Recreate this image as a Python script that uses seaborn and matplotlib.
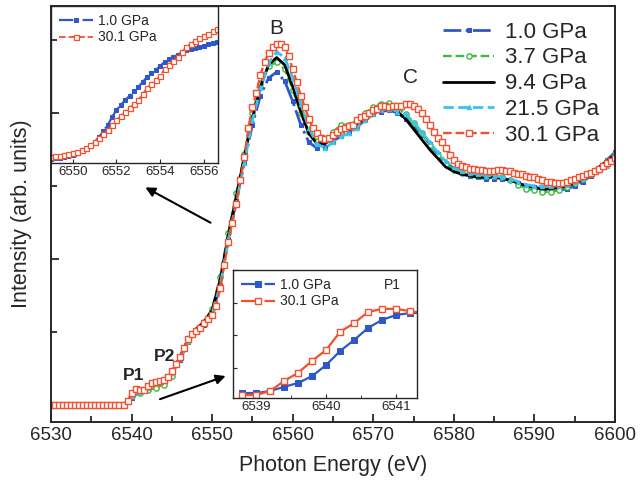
import numpy as np
import matplotlib
matplotlib.use('Agg')
import matplotlib.pyplot as plt
import seaborn as sns
from matplotlib.ticker import MultipleLocator

sns.set_style('ticks')
plt.rcParams['font.family'] = ['Liberation Sans', 'DejaVu Sans']

# ---------------- data ----------------
# main spectra (30.1 GPa on 0.5 eV grid, the others on 1 eV grid)
energy_fine = np.arange(6530.0, 6600.01, 0.5)
energy = np.arange(6530.0, 6600.01, 1.0)

i_301 = [
    0.00, 0.00, 0.00, 0.00, 0.00, 0.00, 0.00, 0.00, 0.00, 0.00,   # 6530-6534.5
    0.00, 0.00, 0.00, 0.00, 0.00, 0.00, 0.00, 0.00, 0.00, 0.03,   # 6535-6539.5
    0.08, 0.11, 0.10, 0.105, 0.13, 0.15, 0.16, 0.165, 0.17, 0.19,  # 6540-6544.5
    0.23, 0.28, 0.33, 0.39, 0.45, 0.49, 0.51, 0.53, 0.56, 0.59,   # 6545-6549.5
    0.62, 0.68, 0.80, 0.96, 1.12, 1.25, 1.38, 1.54, 1.70, 1.90,   # 6550-6554.5
    2.04, 2.14, 2.26, 2.35, 2.41, 2.45, 2.47, 2.47, 2.45, 2.39,   # 6555-6559.5
    2.30, 2.21, 2.12, 2.04, 1.96, 1.90, 1.86, 1.83, 1.82, 1.83,   # 6560-6564.5
    1.85, 1.87, 1.89, 1.90, 1.91, 1.92, 1.95, 1.97, 1.98, 2.00,   # 6565-6569.5
    2.02, 2.03, 2.05, 2.05, 2.04, 2.05, 2.05, 2.05, 2.06, 2.06,   # 6570-6574.5
    2.05, 2.03, 2.00, 1.96, 1.92, 1.87, 1.83, 1.80, 1.76, 1.71,   # 6575-6579.5
    1.68, 1.65, 1.64, 1.63, 1.62, 1.62, 1.61, 1.61, 1.60, 1.60,   # 6580-6584.5
    1.60, 1.61, 1.61, 1.60, 1.60, 1.59, 1.58, 1.58, 1.57, 1.56,   # 6585-6589.5
    1.56, 1.55, 1.54, 1.53, 1.53, 1.52, 1.52, 1.52, 1.53, 1.54,   # 6590-6594.5
    1.55, 1.56, 1.57, 1.58, 1.59, 1.60, 1.62, 1.64, 1.66, 1.67,   # 6595-6599.5
    1.69,
]

i_10 = [
    0.00, 0.00, 0.00, 0.00, 0.00, 0.00, 0.00, 0.00, 0.00, 0.00,   # 6530-6539
    0.05, 0.09, 0.12, 0.15, 0.16, 0.21, 0.31, 0.43, 0.50, 0.55,   # 6540-6549
    0.62, 0.82, 1.14, 1.40, 1.66, 1.92, 2.12, 2.24, 2.28, 2.22,   # 6550-6559
    2.08, 1.92, 1.80, 1.76, 1.77, 1.81, 1.84, 1.87, 1.91, 1.95,   # 6560-6569
    1.99, 2.01, 2.02, 2.00, 1.96, 1.91, 1.85, 1.79, 1.72, 1.66,   # 6570-6579
    1.62, 1.59, 1.57, 1.56, 1.55, 1.55, 1.55, 1.54, 1.52, 1.50,   # 6580-6589
    1.49, 1.48, 1.47, 1.47, 1.48, 1.50, 1.53, 1.57, 1.62, 1.68,   # 6590-6599
    1.73,
]

i_37 = [
    0.00, 0.00, 0.00, 0.00, 0.00, 0.00, 0.00, 0.00, 0.00, 0.00,
    0.06, 0.08, 0.10, 0.12, 0.14, 0.20, 0.32, 0.44, 0.51, 0.57,
    0.66, 0.88, 1.18, 1.45, 1.72, 2.00, 2.20, 2.32, 2.35, 2.30,
    2.16, 2.00, 1.87, 1.81, 1.82, 1.87, 1.92, 1.92, 1.95, 2.00,
    2.04, 2.06, 2.07, 2.04, 1.99, 1.93, 1.86, 1.78, 1.71, 1.65,
    1.61, 1.59, 1.58, 1.57, 1.57, 1.57, 1.56, 1.54, 1.51, 1.48,
    1.47, 1.46, 1.46, 1.47, 1.49, 1.52, 1.55, 1.58, 1.62, 1.67,
    1.71,
]

i_94 = [
    0.00, 0.00, 0.00, 0.00, 0.00, 0.00, 0.00, 0.00, 0.00, 0.00,
    0.06, 0.09, 0.12, 0.15, 0.17, 0.22, 0.33, 0.45, 0.52, 0.57,
    0.65, 0.86, 1.16, 1.43, 1.70, 1.97, 2.18, 2.33, 2.38, 2.33,
    2.18, 2.01, 1.86, 1.79, 1.79, 1.83, 1.87, 1.89, 1.93, 1.97,
    2.01, 2.03, 2.03, 2.01, 1.96, 1.89, 1.82, 1.75, 1.69, 1.63,
    1.60, 1.58, 1.57, 1.56, 1.56, 1.56, 1.55, 1.54, 1.52, 1.50,
    1.49, 1.48, 1.48, 1.49, 1.50, 1.52, 1.55, 1.59, 1.63, 1.67,
    1.71,
]

i_215 = [
    0.00, 0.00, 0.00, 0.00, 0.00, 0.00, 0.00, 0.00, 0.00, 0.00,
    0.06, 0.09, 0.12, 0.15, 0.17, 0.22, 0.32, 0.44, 0.51, 0.56,
    0.63, 0.82, 1.13, 1.39, 1.66, 1.95, 2.17, 2.34, 2.42, 2.38,
    2.24, 2.06, 1.90, 1.79, 1.76, 1.80, 1.84, 1.86, 1.90, 1.95,
    1.99, 2.02, 2.03, 2.01, 1.99, 1.94, 1.87, 1.80, 1.73, 1.67,
    1.63, 1.60, 1.59, 1.58, 1.57, 1.57, 1.56, 1.55, 1.53, 1.51,
    1.50, 1.50, 1.50, 1.50, 1.51, 1.53, 1.55, 1.58, 1.61, 1.64,
    1.67,
]

# inset 1: main edge, 6549.0 - 6556.6 eV
edge_energy = np.arange(6549.0, 6556.61, 0.2)
edge_10 = [
    0.04, 0.05, 0.05, 0.06, 0.07, 0.08, 0.10, 0.12, 0.14, 0.17,
    0.21, 0.26, 0.32, 0.38, 0.46, 0.53, 0.58, 0.63, 0.67, 0.72,
    0.76, 0.81, 0.86, 0.90, 0.93, 0.97, 1.01, 1.04, 1.06, 1.08,
    1.11, 1.13, 1.14, 1.15, 1.16, 1.17, 1.19, 1.20, 1.21,
]
edge_301 = [
    0.06, 0.07, 0.07, 0.08, 0.09, 0.10, 0.11, 0.13, 0.15, 0.18,
    0.21, 0.25, 0.29, 0.33, 0.38, 0.43, 0.47, 0.51, 0.55, 0.59,
    0.63, 0.69, 0.75, 0.79, 0.83, 0.87, 0.94, 0.98, 1.02, 1.06,
    1.11, 1.16, 1.19, 1.22, 1.25, 1.27, 1.29, 1.32, 1.34,
]

# inset 2: pre-edge P1
pre_energy = [6538.8, 6539.0, 6539.2, 6539.4, 6539.6, 6539.8, 6540.0,
              6540.2, 6540.4, 6540.6, 6540.8, 6541.0, 6541.2, 6541.4]
pre_10 = [0.23, 0.23, 0.29, 0.42, 0.54, 0.75, 1.09,
          1.52, 1.86, 2.23, 2.48, 2.63, 2.69, 2.70]
pre_301 = [0.17, 0.17, 0.29, 0.60, 0.85, 1.22, 1.55,
           2.11, 2.38, 2.72, 2.82, 2.82, 2.75, 2.69]

# ---------------- styles ----------------
BLUE = '#2f57c8'
GREEN = '#3dbb3d'
CYAN = '#3cc3ea'
RED = '#f2502e'

W, H = 641, 492
fig = plt.figure(figsize=(W / 100, H / 100), dpi=100)

def pix_axes(x0, y0, x1, y1):
    return fig.add_axes([x0 / W, 1 - y1 / H, (x1 - x0) / W, (y1 - y0) / H])

ax = pix_axes(51, 6, 615, 422)

sns.lineplot(x=energy, y=i_10, ax=ax, color=BLUE, lw=2.0, ls='-.', marker='s',
             ms=3.2, mec=BLUE, label='1.0 GPa')
sns.lineplot(x=energy, y=i_37, ax=ax, color=GREEN, lw=1.7, ls='--', marker='o',
             ms=3.8, mfc='white', mec=GREEN, mew=1.0, label='3.7 GPa')
sns.lineplot(x=energy, y=i_94, ax=ax, color='black', lw=2.0, ls='-', label='9.4 GPa')
sns.lineplot(x=energy, y=i_215, ax=ax, color=CYAN, lw=2.0, ls='--', marker='^',
             ms=3.2, mec=CYAN, label='21.5 GPa')
sns.lineplot(x=energy_fine, y=i_301, ax=ax, color=RED, lw=1.7, ls='--', marker='s',
             ms=3.8, mfc='white', mec=RED, mew=1.0, label='30.1 GPa')

ax.set_xlim(6530, 6600)
ax.set_ylim(-0.116, 2.733)
ax.xaxis.set_major_locator(MultipleLocator(10))
ax.xaxis.set_minor_locator(MultipleLocator(5))
ax.yaxis.set_major_locator(MultipleLocator(1))
ax.yaxis.set_minor_locator(MultipleLocator(0.5))
ax.set_yticklabels([])
ax.tick_params(which='both', direction='in', top=False, right=False,
               labelsize=13.5, width=1.3)
ax.tick_params(which='major', length=6)
ax.tick_params(which='minor', length=4)
for s in ax.spines.values():
    s.set_linewidth(1.4)
ax.set_xlabel('Photon Energy (eV)', fontsize=15.5, labelpad=8)
ax.set_ylabel('Intensity (arb. units)', fontsize=15.5, labelpad=10)

leg = ax.legend(loc='upper right', bbox_to_anchor=(1.0, 1.0), frameon=False,
                fontsize=16, handlelength=2.3, handletextpad=0.5,
                labelspacing=0.22, borderaxespad=0.3, numpoints=1)

ax.text(6558.0, 2.58, 'B', fontsize=15, ha='center', va='center')
ax.text(6574.6, 2.24, 'C', fontsize=15, ha='center', va='center')
ax.text(6540.2, 0.20, 'P1', fontsize=12.5, fontweight='bold', ha='center', va='center')
ax.text(6544.1, 0.33, 'P2', fontsize=12.5, fontweight='bold', ha='center', va='center')

ax.annotate('', xy=(6541.4, 1.50), xytext=(6550.1, 1.24),
            arrowprops=dict(arrowstyle='-|>', color='black', lw=1.5,
                            mutation_scale=14))
ax.annotate('', xy=(6552.0, 0.205), xytext=(6543.2, 0.034),
            arrowprops=dict(arrowstyle='-|>', color='black', lw=1.5,
                            mutation_scale=14))

# inset 1
ax1 = pix_axes(51, 6, 218, 163)
ax1.patch.set_alpha(0)
sns.lineplot(x=edge_energy, y=edge_10, ax=ax1, color=BLUE, lw=1.6, ls='-.',
             marker='s', ms=2.8, mec=BLUE, label='1.0 GPa')
sns.lineplot(x=edge_energy, y=edge_301, ax=ax1, color=RED, lw=1.3, ls='--',
             marker='s', ms=3.6, mfc='white', mec=RED, mew=0.9, label='30.1 GPa')
ax1.set_xlim(6549.0, 6556.65)
ax1.set_ylim(0, 1.57)
ax1.xaxis.set_major_locator(MultipleLocator(2))
ax1.xaxis.set_minor_locator(MultipleLocator(1))
ax1.set_yticks([])
ax1.tick_params(which='both', direction='in', labelsize=9.5, pad=2)
ax1.tick_params(which='major', length=3)
ax1.tick_params(which='minor', length=0)
for s in ax1.spines.values():
    s.set_linewidth(1.0)
ax1.set_xlabel('')
ax1.legend(loc='upper left', frameon=False, fontsize=10, handlelength=2.4,
           handletextpad=0.4, labelspacing=0.15, borderaxespad=0.2, numpoints=1)

# inset 2
ax2 = pix_axes(233, 270, 417, 398)
sns.lineplot(x=pre_energy, y=pre_10, ax=ax2, color=BLUE, lw=1.6, ls='-',
             marker='s', ms=3.8, mec=BLUE, label='1.0 GPa')
sns.lineplot(x=pre_energy, y=pre_301, ax=ax2, color=RED, lw=1.6, ls='-',
             marker='s', ms=4.2, mfc='white', mec=RED, mew=1.0, label='30.1 GPa')
ax2.set_xlim(6538.67, 6541.3)
ax2.set_ylim(0.077, 4.015)
ax2.xaxis.set_major_locator(MultipleLocator(1))
ax2.xaxis.set_minor_locator(MultipleLocator(0.5))
ax2.yaxis.set_major_locator(MultipleLocator(1))
ax2.set_yticklabels([])
ax2.tick_params(which='both', direction='in', labelsize=9.5, pad=2)
ax2.tick_params(which='major', length=3)
ax2.tick_params(which='minor', length=2)
for s in ax2.spines.values():
    s.set_linewidth(1.0)
ax2.text(6540.95, 3.55, 'P1', fontsize=10, ha='center', va='center')
ax2.legend(loc='upper left', frameon=False, fontsize=10, handlelength=2.4,
           handletextpad=0.4, labelspacing=0.15, borderaxespad=0.2, numpoints=1)
for line in ax2.get_legend().get_lines():
    line.set_linestyle('-.')

fig.savefig('out.png', dpi=100)
